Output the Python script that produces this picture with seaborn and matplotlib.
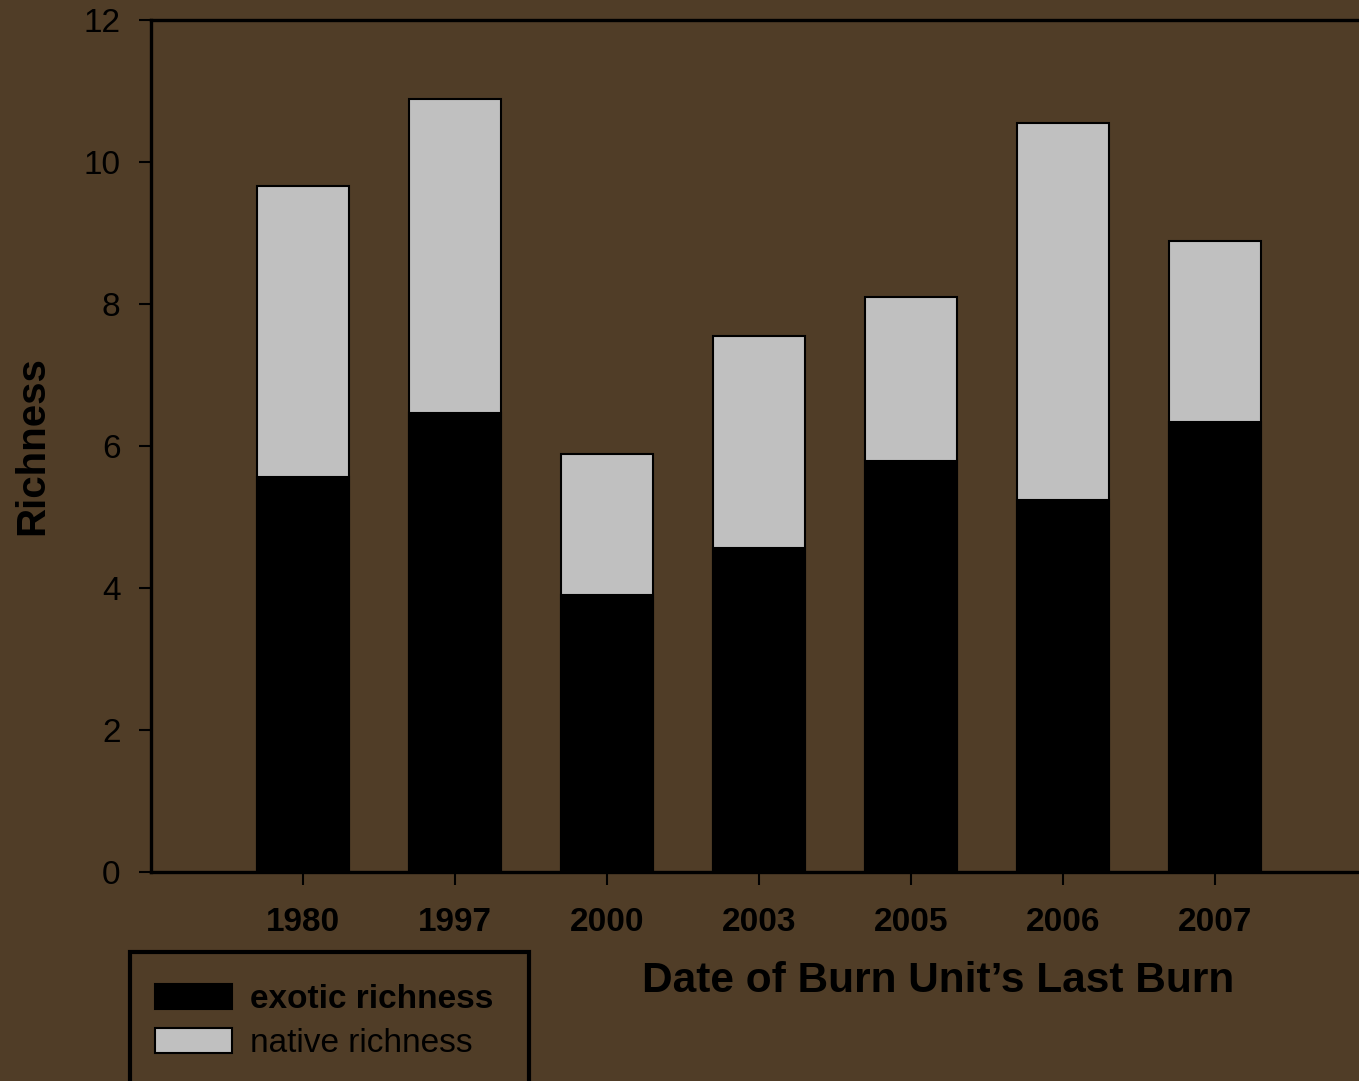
import seaborn as sns
import matplotlib.pyplot as plt
import pandas as pd
from matplotlib.patches import Patch, Rectangle

# data
years = ["1980", "1997", "2000", "2003", "2005", "2006", "2007"]
exotic = [5.56, 6.46, 3.90, 4.56, 5.79, 5.24, 6.34]
total = [9.66, 10.89, 5.89, 7.55, 8.10, 10.55, 8.89]

df = pd.DataFrame({"year": years, "exotic": exotic, "total": total})

bg = "#503D27"
sns.set_theme(style="ticks")
plt.rcParams["font.family"] = ["Liberation Sans", "DejaVu Sans"]
plt.rcParams["text.color"] = "black"
plt.rcParams["axes.labelcolor"] = "black"
plt.rcParams["xtick.color"] = "black"
plt.rcParams["ytick.color"] = "black"

W, H = 1359, 1081
fig = plt.figure(figsize=(W / 100, H / 100), dpi=100, facecolor=bg)
ax = fig.add_axes([151 / W, 209 / H, 1216 / W, 852 / H])
ax.set_facecolor(bg)

# native part = total bar, then exotic drawn over its lower part
sns.barplot(data=df, x="year", y="total", color="#C0C0C0", saturation=1,
            edgecolor="black", linewidth=1.5, width=0.6, ax=ax)
sns.barplot(data=df, x="year", y="exotic", color="black", saturation=1,
            edgecolor="black", linewidth=1.5, width=0.6, ax=ax)

ax.set_xlim(-1, 7)
ax.set_ylim(0, 12)
ax.set_yticks([0, 2, 4, 6, 8, 10, 12])

for s in ax.spines.values():
    s.set_linewidth(2.4)
    s.set_color("black")

ax.tick_params(axis="both", direction="out", length=9, width=1.5, color="black",
               labelcolor="black")
ax.tick_params(axis="y", labelsize=24, pad=13)
ax.tick_params(axis="x", labelsize=24, pad=16)
for t in ax.get_xticklabels():
    t.set_fontweight("bold")

ax.set_xlabel("Date of Burn Unit\u2019s Last Burn", fontsize=30.5, fontweight="bold")
ax.xaxis.set_label_coords(0.647, -0.104)
ax.set_ylabel("Richness", fontsize=29, fontweight="bold")
ax.yaxis.set_label_coords(-0.082, 0.5)

# legend box runs off the bottom of the figure
fig.patches.append(Rectangle((130 / W, -20 / H), 399 / W, (H - 952 + 20) / H,
                             transform=fig.transFigure, fill=False,
                             edgecolor="black", linewidth=3))

handles = [Patch(facecolor="black", edgecolor="black", linewidth=1.5),
           Patch(facecolor="#C0C0C0", edgecolor="black", linewidth=1.5)]
leg = fig.legend(handles, ["exotic richness", "native richness"],
                 loc="upper left", bbox_to_anchor=(155 / W, 1 - 984 / H),
                 fontsize=24, frameon=False, handlelength=2.3,
                 handleheight=0.78, handletextpad=0.55, borderpad=0,
                 labelspacing=0.38, borderaxespad=0)
leg.get_texts()[0].set_fontweight("bold")

fig.savefig("out.png", dpi=100, facecolor=bg)
